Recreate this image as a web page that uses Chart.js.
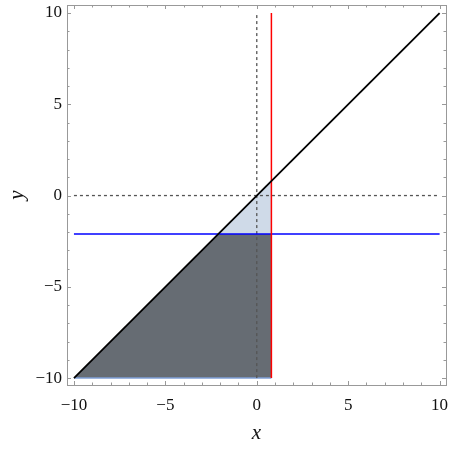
<!DOCTYPE html>
<html><head><meta charset="utf-8">
<script src="https://cdn.jsdelivr.net/npm/chart.js@4/dist/chart.umd.min.js"></script>
<style>html,body{margin:0;padding:0;background:#fff}#wrap{width:449px;height:451px}</style>
</head><body><div id="wrap"><canvas id="c" width="449" height="451"></canvas></div>
<script>
const xTicks = [-10, -5, 0, 5, 10];
const yTicks = [-10, -5, 0, 5, 10];
const minorTicks = [-9,-8,-7,-6,-4,-3,-2,-1,1,2,3,4,6,7,8,9];
const xCut = 0.8;    // red vertical line
const yCut = -2.1;   // blue horizontal line
const diagX = [-10, 10];
const diagY = [-10, 10];
const darkRegion = [[-10,-10],[yCut,yCut],[xCut,yCut],[xCut,-10]];
const lightRegion = [[yCut,yCut],[xCut,xCut],[xCut,yCut]];

const pts = a => a.map(p => ({x:p[0], y:p[1]}));
const fmt = v => (v < 0 ? '\u2212' + Math.abs(v) : String(v));

const innerTicks = {
  id: 'innerTicks',
  afterDraw(chart) {
    const {ctx, chartArea: a, scales: {x, y}} = chart;
    ctx.save();
    ctx.strokeStyle = '#999';
    ctx.lineWidth = 1;
    const tickX = (v, len) => {
      const px = Math.round(x.getPixelForValue(v)) + 0.5;
      ctx.beginPath();
      ctx.moveTo(px, a.bottom); ctx.lineTo(px, a.bottom - len);
      ctx.moveTo(px, a.top); ctx.lineTo(px, a.top + len);
      ctx.stroke();
    };
    const tickY = (v, len) => {
      const py = Math.round(y.getPixelForValue(v)) + 0.5;
      ctx.beginPath();
      ctx.moveTo(a.left, py); ctx.lineTo(a.left + len, py);
      ctx.moveTo(a.right, py); ctx.lineTo(a.right - len, py);
      ctx.stroke();
    };
    xTicks.forEach(v => tickX(v, 4));
    minorTicks.forEach(v => tickX(v, 2.5));
    yTicks.forEach(v => tickY(v, 4));
    minorTicks.forEach(v => tickY(v, 2.5));
    ctx.restore();
  }
};

new Chart(document.getElementById('c'), {
  type: 'scatter',
  data: {
    datasets: [
      { order: 10, data: pts(darkRegion), showLine: true, fill: 'shape', backgroundColor: '#666c73', borderWidth: 0, pointRadius: 0 },
      { order: 9, data: pts(lightRegion), showLine: true, fill: 'shape', backgroundColor: '#cfdae8', borderWidth: 0, pointRadius: 0 },
      { order: 8, data: [{x:-10,y:-10},{x:xCut,y:-10}], showLine: true, borderColor: '#7f9fd6', borderWidth: 1.5, pointRadius: 0 },
      { order: 7, data: [{x:0,y:-10},{x:0,y:10}], showLine: true, borderColor: '#555', borderDash: [3,3], borderWidth: 1.3, pointRadius: 0 },
      { order: 6, data: [{x:-10,y:0},{x:10,y:0}], showLine: true, borderColor: '#555', borderDash: [3,3], borderWidth: 1.3, pointRadius: 0 },
      { order: 5, data: [{x:-10,y:yCut},{x:10,y:yCut}], showLine: true, borderColor: '#0000ff', borderWidth: 1.5, pointRadius: 0 },
      { order: 4, data: [{x:xCut,y:-10},{x:xCut,y:10}], showLine: true, borderColor: '#ff0000', borderWidth: 1.5, pointRadius: 0 },
      { order: 3, data: diagX.map((v,i)=>({x:v,y:diagY[i]})), showLine: true, borderColor: '#000', borderWidth: 1.8, pointRadius: 0 }
    ]
  },
  options: {
    responsive: false,
    animation: false,
    layout: { padding: { left: 0, right: 3, top: 5, bottom: 0 } },
    plugins: { legend: { display: false }, tooltip: { enabled: false } },
    scales: {
      x: {
        type: 'linear', min: -10.38, max: 10.35,
        afterBuildTicks: s => { s.ticks = xTicks.map(v => ({value: v})); },
        afterFit: s => { s.height = 66; s.paddingLeft = 0; s.paddingRight = 0; },
        grid: { display: false, drawTicks: false },
        border: { display: true, color: '#999', width: 1 },
        ticks: { padding: 10, color: '#111', font: { family: 'Liberation Serif', size: 17 }, callback: v => fmt(v), maxRotation: 0 },
        title: { display: true, text: 'x', color: '#111', padding: { top: 0, bottom: 5 }, font: { family: 'Liberation Serif', size: 21, style: 'italic' } }
      },
      y: {
        type: 'linear', min: -10.38, max: 10.44,
        afterBuildTicks: s => { s.ticks = yTicks.map(v => ({value: v})); },
        afterFit: s => { s.width = 67; s.paddingTop = 0; s.paddingBottom = 0; },
        grid: { display: false, drawTicks: false },
        border: { display: true, color: '#999', width: 1 },
        ticks: { padding: 5, color: '#111', font: { family: 'Liberation Serif', size: 17 }, callback: v => fmt(v) },
        title: { display: true, text: 'y', color: '#111', padding: { top: 5, bottom: 0 }, font: { family: 'Liberation Serif', size: 21, style: 'italic' } }
      }
    }
  },
  plugins: [innerTicks, {
    id: 'frame',
    afterDraw(chart) {
      const {ctx, chartArea: a} = chart;
      ctx.save(); ctx.strokeStyle = '#999'; ctx.lineWidth = 1;
      ctx.strokeRect(Math.round(a.left)+0.5, Math.round(a.top)+0.5, Math.round(a.right-a.left), Math.round(a.bottom-a.top));
      ctx.restore();
    }
  }]
});
</script></body></html>
